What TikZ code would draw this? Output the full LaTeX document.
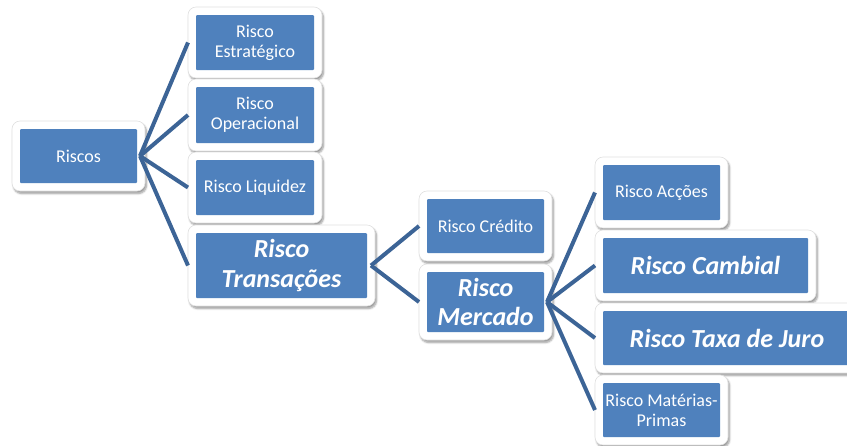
\documentclass[tikz,border=0pt]{standalone}
\usepackage{fontspec}
\setmainfont{Carlito}
\usetikzlibrary{shadows.blur}
\definecolor{BoxBlue}{RGB}{79, 129, 189}
\definecolor{LinkBlue}{RGB}{60, 100, 150}

\begin{document}
\begin{tikzpicture}[x=1pt, y=-1pt,
    riskbox/.style={fill=white, draw=black!12, line width=0.6pt, rounded corners=8pt,
        text=white, align=center, inner sep=0pt, outer sep=0pt,
        path picture={\fill[BoxBlue, rounded corners=1pt]
            ([shift={(8pt,8pt)}]path picture bounding box.south west) rectangle
            ([shift={(-8pt,-8pt)}]path picture bounding box.north east);},
        blur shadow={shadow xshift=1.5pt, shadow yshift=-2.5pt, shadow blur steps=6, shadow opacity=40}},
    smallbox/.style={riskbox, font=\fontsize{18}{20}\selectfont},
    bigbox/.style={riskbox, font=\fontsize{26}{30}\selectfont\bfseries\itshape},
    link/.style={LinkBlue, line width=4pt}]
    % Margens da figura
    \clip (0,0) rectangle (847,445);

    % Raiz
    \node[smallbox, minimum width=133, minimum height=70] (riscos) at (78.5,156) {Riscos};

    % Primeiro nivel
    \node[smallbox, minimum width=134, minimum height=71] (estrat) at (255,42.5) {Risco\\Estratégico};
    \node[smallbox, minimum width=134, minimum height=72] (operac) at (255,115) {Risco\\Operacional};
    \node[smallbox, minimum width=134, minimum height=71] (liquid) at (255,187.5) {Risco Liquidez};
    \node[bigbox, minimum width=187, minimum height=81] (transac) at (281.5,265.5) {Risco\\Transações};

    % Segundo nivel
    \node[smallbox, minimum width=133, minimum height=70] (credito) at (485.5,226) {Risco Crédito};
    \node[bigbox, font=\fontsize{26}{29}\selectfont\bfseries\itshape,
          minimum width=133, minimum height=76] (mercado) at (485.5,302) {Risco\\Mercado};

    % Terceiro nivel
    \node[smallbox, minimum width=133, minimum height=71] (accoes) at (661.5,192.5) {Risco Acções};
    \node[bigbox, minimum width=221, minimum height=71] (cambial) at (705.5,265.5) {Risco Cambial};
    \node[bigbox, minimum width=264, minimum height=70] (taxa) at (727,338) {Risco Taxa de Juro};
    \node[smallbox, minimum width=133, minimum height=70] (materias) at (661.5,410) {Risco Matérias-\\Primas};

    % Ligacoes: da borda azul do pai ate a moldura do filho
    \foreach \child in {estrat, operac, liquid, transac}
        \draw[link] ([xshift=-5pt]riscos.east) -- (\child.west);
    \foreach \child in {credito, mercado}
        \draw[link] ([xshift=-4pt]transac.east) -- (\child.west);
    \foreach \child in {accoes, cambial, taxa, materias}
        \draw[link] ([xshift=-5pt]mercado.east) -- (\child.west);
\end{tikzpicture}
\end{document}
